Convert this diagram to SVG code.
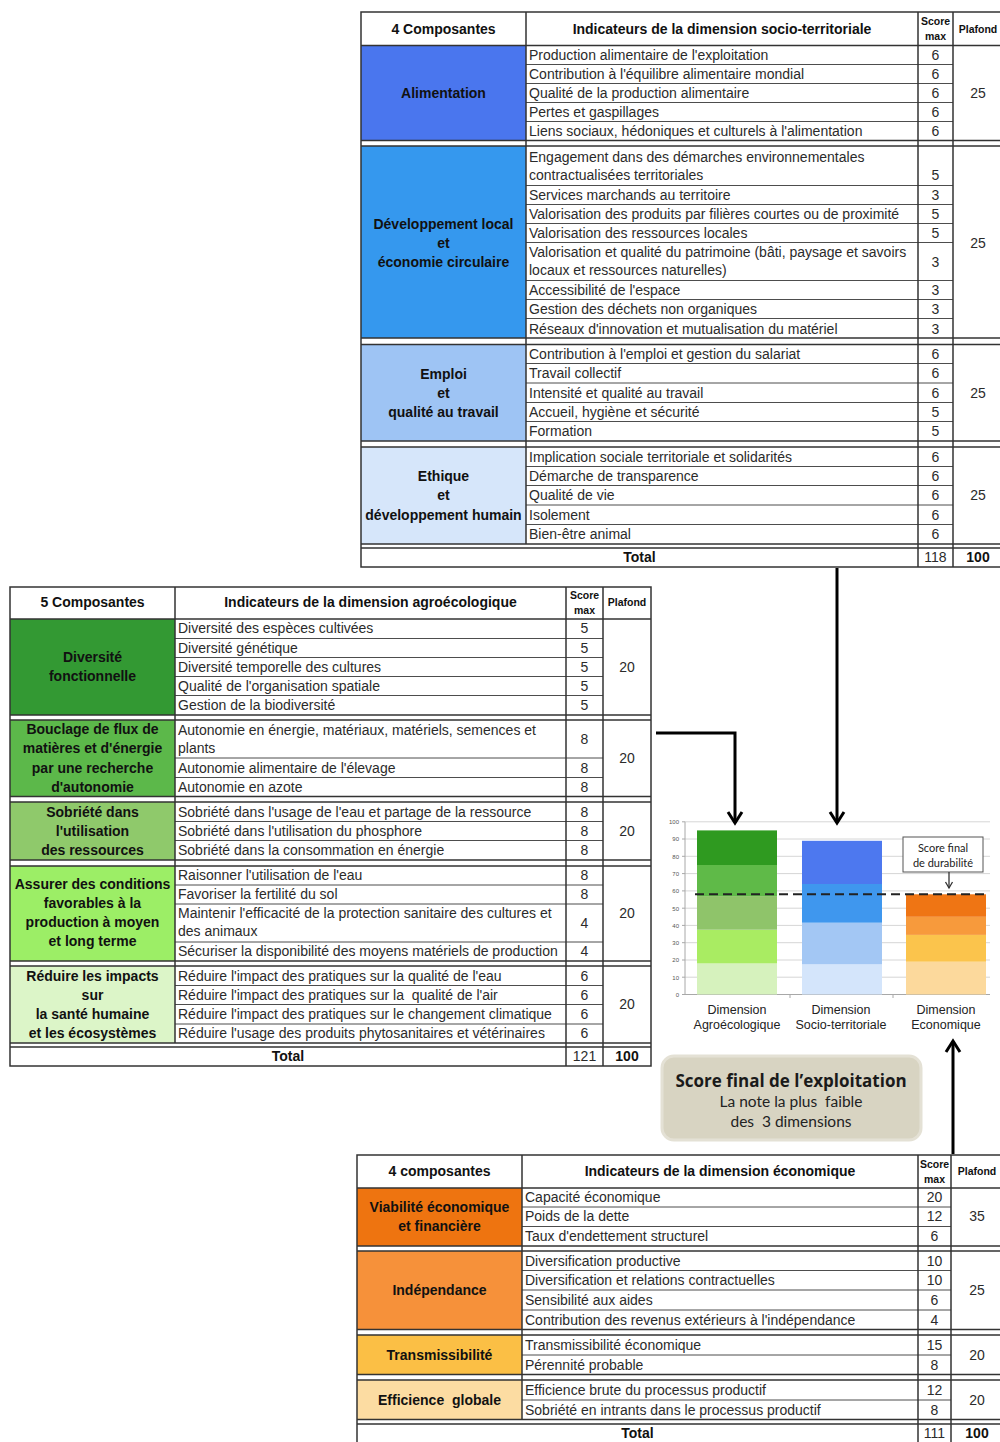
<svg xmlns="http://www.w3.org/2000/svg" width="1000" height="1442" viewBox="0 0 1000 1442">
<defs>
<style>
text{white-space:pre}
.t{font-family:"Liberation Sans",Arial,sans-serif;font-size:14px;fill:#2b2b2b}
.n{text-anchor:middle}
.c{font-family:"Liberation Sans",Arial,sans-serif;font-size:14px;font-weight:bold;fill:#111;text-anchor:middle}
.s{font-family:"Liberation Sans",Arial,sans-serif;font-size:10.5px;font-weight:bold;fill:#111;text-anchor:middle}
.ln{stroke:#4d4d4d;stroke-width:1;fill:none}
.bd{stroke:#333;stroke-width:1.5;fill:none}
.ax{font-family:"Liberation Sans",Arial,sans-serif;font-size:6px;fill:#555;text-anchor:end}
.xl{font-family:"Liberation Sans",Arial,sans-serif;font-size:12.5px;fill:#222;text-anchor:middle}
.gr{stroke:#d6d6d6;stroke-width:1}
.cal{font-family:Lato,"Open Sans",sans-serif;fill:#222;text-anchor:middle}
.ttl{font-family:"Open Sans",Lato,sans-serif;font-weight:700;font-size:17px;fill:#1a1a1a;text-anchor:middle}
.con{stroke:#000;stroke-width:3;fill:none;marker-end:url(#chev)}
</style>
<marker id="chev" markerUnits="userSpaceOnUse" markerWidth="18" markerHeight="18" viewBox="0 0 18 18" refX="15" refY="9" orient="auto">
<path d="M4,2 L15,9 L4,16" fill="none" stroke="#000" stroke-width="3"/>
</marker>
<marker id="chevs" markerUnits="userSpaceOnUse" markerWidth="10" markerHeight="10" viewBox="0 0 10 10" refX="8" refY="5" orient="auto">
<path d="M2,1.5 L8,5 L2,8.5" fill="none" stroke="#333" stroke-width="1.3"/>
</marker>
</defs>
<rect width="1000" height="1442" fill="#fff"/>

<!-- Socio-territorial dimension table -->
<g id="table-socio">
<rect x="361" y="12" width="642" height="555" fill="#fff"/>
<g id="st-alimentation">
<rect x="361" y="45.5" width="165" height="95" fill="#4a76ee"/>
<text class="c" x="443.5" y="98">Alimentation</text>
<path class="ln" d="M526 64.5H953M526 83.5H953M526 102.5H953M526 121.5H953"/>
<text class="t" x="529" y="60">Production alimentaire de l'exploitation</text>
<text class="t" x="529" y="79">Contribution à l'équilibre alimentaire mondial</text>
<text class="t" x="529" y="98">Qualité de la production alimentaire</text>
<text class="t" x="529" y="117">Pertes et gaspillages</text>
<text class="t" x="529" y="136">Liens sociaux, hédoniques et culturels à l'alimentation</text>
<text class="t n" x="935.5" y="60">6</text><text class="t n" x="935.5" y="79">6</text><text class="t n" x="935.5" y="98">6</text><text class="t n" x="935.5" y="117">6</text><text class="t n" x="935.5" y="136">6</text>
<text class="t n" x="978" y="98">25</text>
</g>
<g id="st-developpement">
<rect x="361" y="146" width="165" height="192" fill="#3598ee"/>
<text class="c" x="443.5" y="229">Développement local</text>
<text class="c" x="443.5" y="248">et</text>
<text class="c" x="443.5" y="267">économie circulaire</text>
<path class="ln" d="M526 185.5H953M526 204.5H953M526 223.5H953M526 242.5H953M526 280.5H953M526 299.5H953M526 318.5H953"/>
<text class="t" x="529" y="162">Engagement dans des démarches environnementales</text>
<text class="t" x="529" y="180">contractualisées territoriales</text>
<text class="t" x="529" y="200">Services marchands au territoire</text>
<text class="t" x="529" y="219">Valorisation des produits par filières courtes ou de proximité</text>
<text class="t" x="529" y="238">Valorisation des ressources locales</text>
<text class="t" x="529" y="257">Valorisation et qualité du patrimoine (bâti, paysage et savoirs</text>
<text class="t" x="529" y="275">locaux et ressources naturelles)</text>
<text class="t" x="529" y="295">Accessibilité de l'espace</text>
<text class="t" x="529" y="314">Gestion des déchets non organiques</text>
<text class="t" x="529" y="333.5">Réseaux d'innovation et mutualisation du matériel</text>
<text class="t n" x="935.5" y="180">5</text><text class="t n" x="935.5" y="200">3</text><text class="t n" x="935.5" y="219">5</text><text class="t n" x="935.5" y="238">5</text><text class="t n" x="935.5" y="266.5">3</text><text class="t n" x="935.5" y="295">3</text><text class="t n" x="935.5" y="314">3</text><text class="t n" x="935.5" y="333.5">3</text>
<text class="t n" x="978" y="248">25</text>
</g>
<g id="st-emploi">
<rect x="361" y="344.5" width="165" height="96.5" fill="#9ec4f4"/>
<text class="c" x="443.5" y="379">Emploi</text>
<text class="c" x="443.5" y="398">et</text>
<text class="c" x="443.5" y="417">qualité au travail</text>
<path class="ln" d="M526 363.5H953M526 383H953M526 402.5H953M526 421.5H953"/>
<text class="t" x="529" y="359">Contribution à l'emploi et gestion du salariat</text>
<text class="t" x="529" y="378">Travail collectif</text>
<text class="t" x="529" y="398">Intensité et qualité au travail</text>
<text class="t" x="529" y="417">Accueil, hygiène et sécurité</text>
<text class="t" x="529" y="436">Formation</text>
<text class="t n" x="935.5" y="359">6</text><text class="t n" x="935.5" y="378">6</text><text class="t n" x="935.5" y="398">6</text><text class="t n" x="935.5" y="417">5</text><text class="t n" x="935.5" y="436">5</text>
<text class="t n" x="978" y="398">25</text>
</g>
<g id="st-ethique">
<rect x="361" y="447" width="165" height="97" fill="#d6e6fa"/>
<text class="c" x="443.5" y="481">Ethique</text>
<text class="c" x="443.5" y="500">et</text>
<text class="c" x="443.5" y="520">développement humain</text>
<path class="ln" d="M526 466.5H953M526 485.5H953M526 505H953M526 524.5H953"/>
<text class="t" x="529" y="462">Implication sociale territoriale et solidarités</text>
<text class="t" x="529" y="481">Démarche de transparence</text>
<text class="t" x="529" y="500">Qualité de vie</text>
<text class="t" x="529" y="520">Isolement</text>
<text class="t" x="529" y="539">Bien-être animal</text>
<text class="t n" x="935.5" y="462">6</text><text class="t n" x="935.5" y="481">6</text><text class="t n" x="935.5" y="500">6</text><text class="t n" x="935.5" y="520">6</text><text class="t n" x="935.5" y="539">6</text>
<text class="t n" x="978" y="500">25</text>
</g>
<text class="c" x="443.5" y="34">4 Composantes</text>
<text class="c" x="722" y="34">Indicateurs de la dimension socio-territoriale</text>
<text class="s" x="935.5" y="25">Score</text><text class="s" x="935.5" y="40">max</text>
<text class="s" x="978" y="32.5">Plafond</text>
<text class="c" x="639.5" y="562">Total</text>
<text class="t n" x="935.5" y="562">118</text>
<text class="c" x="978" y="562">100</text>
<path class="bd" d="M361 45.5H1003M361 140.5H1003M361 146H1003M361 338H1003M361 344.5H1003M361 441H1003M361 447H1003M361 544H1003M361 548H1003"/>
<path class="bd" d="M526 12V544M918 12V567M953 12V567"/>
<rect class="bd" x="361" y="12" width="642" height="555"/>
</g>

<!-- Agro-ecological dimension table -->
<g id="table-agro">
<rect x="10" y="587" width="641" height="479" fill="#fff"/>
<g id="ae-diversite">
<rect x="10" y="619" width="165" height="96" fill="#339933"/>
<text class="c" x="92.5" y="662">Diversité</text>
<text class="c" x="92.5" y="681">fonctionnelle</text>
<path class="ln" d="M175 638.5H603M175 657.5H603M175 676.5H603M175 695.5H603"/>
<text class="t" x="178" y="633">Diversité des espèces cultivées</text>
<text class="t" x="178" y="653">Diversité génétique</text>
<text class="t" x="178" y="672">Diversité temporelle des cultures</text>
<text class="t" x="178" y="691">Qualité de l'organisation spatiale</text>
<text class="t" x="178" y="710">Gestion de la biodiversité</text>
<text class="t n" x="584.5" y="633">5</text><text class="t n" x="584.5" y="653">5</text><text class="t n" x="584.5" y="672">5</text><text class="t n" x="584.5" y="691">5</text><text class="t n" x="584.5" y="710">5</text>
<text class="t n" x="627" y="672">20</text>
</g>
<g id="ae-bouclage">
<rect x="10" y="720" width="165" height="76.5" fill="#5cb84a"/>
<text class="c" x="92.5" y="734">Bouclage de flux de</text>
<text class="c" x="92.5" y="753">matières et d'énergie</text>
<text class="c" x="92.5" y="773">par une recherche</text>
<text class="c" x="92.5" y="792">d'autonomie</text>
<path class="ln" d="M175 758H603M175 777.5H603"/>
<text class="t" x="178" y="735">Autonomie en énergie, matériaux, matériels, semences et</text>
<text class="t" x="178" y="753">plants</text>
<text class="t" x="178" y="773">Autonomie alimentaire de l'élevage</text>
<text class="t" x="178" y="792">Autonomie en azote</text>
<text class="t n" x="584.5" y="744">8</text><text class="t n" x="584.5" y="773">8</text><text class="t n" x="584.5" y="792">8</text>
<text class="t n" x="627" y="763">20</text>
</g>
<g id="ae-sobriete">
<rect x="10" y="802" width="165" height="58" fill="#8fc96b"/>
<text class="c" x="92.5" y="817">Sobriété dans</text>
<text class="c" x="92.5" y="836">l'utilisation</text>
<text class="c" x="92.5" y="855">des ressources</text>
<path class="ln" d="M175 821.5H603M175 840.5H603"/>
<text class="t" x="178" y="817">Sobriété dans l'usage de l'eau et partage de la ressource</text>
<text class="t" x="178" y="836">Sobriété dans l'utilisation du phosphore</text>
<text class="t" x="178" y="855">Sobriété dans la consommation en énergie</text>
<text class="t n" x="584.5" y="817">8</text><text class="t n" x="584.5" y="836">8</text><text class="t n" x="584.5" y="855">8</text>
<text class="t n" x="627" y="836">20</text>
</g>
<g id="ae-conditions">
<rect x="10" y="866" width="165" height="95" fill="#9cee66"/>
<text class="c" x="92.5" y="889">Assurer des conditions</text>
<text class="c" x="92.5" y="908">favorables à la</text>
<text class="c" x="92.5" y="927">production à moyen</text>
<text class="c" x="92.5" y="946">et long terme</text>
<path class="ln" d="M175 885H603M175 904H603M175 942H603"/>
<text class="t" x="178" y="880">Raisonner l'utilisation de l'eau</text>
<text class="t" x="178" y="899">Favoriser la fertilité du sol</text>
<text class="t" x="178" y="918">Maintenir l'efficacité de la protection sanitaire des cultures et</text>
<text class="t" x="178" y="936">des animaux</text>
<text class="t" x="178" y="956">Sécuriser la disponibilité des moyens matériels de production</text>
<text class="t n" x="584.5" y="880">8</text><text class="t n" x="584.5" y="899">8</text><text class="t n" x="584.5" y="928">4</text><text class="t n" x="584.5" y="956">4</text>
<text class="t n" x="627" y="918">20</text>
</g>
<g id="ae-impacts">
<rect x="10" y="966" width="165" height="77" fill="#dcf5c8"/>
<text class="c" x="92.5" y="981">Réduire les impacts</text>
<text class="c" x="92.5" y="1000">sur</text>
<text class="c" x="92.5" y="1019">la santé humaine</text>
<text class="c" x="92.5" y="1038">et les écosystèmes</text>
<path class="ln" d="M175 985.5H603M175 1004.5H603M175 1024H603"/>
<text class="t" x="178" y="981">Réduire l'impact des pratiques sur la qualité de l'eau</text>
<text class="t" x="178" y="1000">Réduire l'impact des pratiques sur la  qualité de l'air</text>
<text class="t" x="178" y="1019">Réduire l'impact des pratiques sur le changement climatique</text>
<text class="t" x="178" y="1038">Réduire l'usage des produits phytosanitaires et vétérinaires</text>
<text class="t n" x="584.5" y="981">6</text><text class="t n" x="584.5" y="1000">6</text><text class="t n" x="584.5" y="1019">6</text><text class="t n" x="584.5" y="1038">6</text>
<text class="t n" x="627" y="1009">20</text>
</g>
<text class="c" x="92.5" y="607">5 Composantes</text>
<text class="c" x="370.5" y="607">Indicateurs de la dimension agroécologique</text>
<text class="s" x="584.5" y="599">Score</text><text class="s" x="584.5" y="614">max</text>
<text class="s" x="627" y="606">Plafond</text>
<text class="c" x="288" y="1061">Total</text>
<text class="t n" x="584.5" y="1061">121</text>
<text class="c" x="627" y="1061">100</text>
<path class="bd" d="M10 619H651M10 715H651M10 720H651M10 796.5H651M10 802H651M10 860H651M10 866H651M10 961H651M10 966H651M10 1043H651M10 1047H651"/>
<path class="bd" d="M175 587V1043M566 587V1066M603 587V1066"/>
<rect class="bd" x="10" y="587" width="641" height="479"/>
</g>

<!-- Economic dimension table -->
<g id="table-eco">
<rect x="357" y="1155" width="646" height="290" fill="#fff"/>
<g id="ec-viabilite">
<rect x="357" y="1188" width="165" height="58" fill="#ee7410"/>
<text class="c" x="439.5" y="1212">Viabilité économique</text>
<text class="c" x="439.5" y="1231">et financière</text>
<path class="ln" d="M522 1207H951M522 1226.5H951"/>
<text class="t" x="525" y="1202">Capacité économique</text>
<text class="t" x="525" y="1221">Poids de la dette</text>
<text class="t" x="525" y="1241">Taux d'endettement structurel</text>
<text class="t n" x="934.5" y="1202">20</text><text class="t n" x="934.5" y="1221">12</text><text class="t n" x="934.5" y="1241">6</text>
<text class="t n" x="977" y="1221">35</text>
</g>
<g id="ec-independance">
<rect x="357" y="1251" width="165" height="78.5" fill="#f6913a"/>
<text class="c" x="439.5" y="1295">Indépendance</text>
<path class="ln" d="M522 1270.5H951M522 1290H951M522 1310H951"/>
<text class="t" x="525" y="1266">Diversification productive</text>
<text class="t" x="525" y="1285">Diversification et relations contractuelles</text>
<text class="t" x="525" y="1305">Sensibilité aux aides</text>
<text class="t" x="525" y="1325">Contribution des revenus extérieurs à l'indépendance</text>
<text class="t n" x="934.5" y="1266">10</text><text class="t n" x="934.5" y="1285">10</text><text class="t n" x="934.5" y="1305">6</text><text class="t n" x="934.5" y="1325">4</text>
<text class="t n" x="977" y="1295">25</text>
</g>
<g id="ec-transmissibilite">
<rect x="357" y="1335" width="165" height="39.5" fill="#fbbf45"/>
<text class="c" x="439.5" y="1360">Transmissibilité</text>
<path class="ln" d="M522 1355H951"/>
<text class="t" x="525" y="1350">Transmissibilité économique</text>
<text class="t" x="525" y="1370">Pérennité probable</text>
<text class="t n" x="934.5" y="1350">15</text><text class="t n" x="934.5" y="1370">8</text>
<text class="t n" x="977" y="1360">20</text>
</g>
<g id="ec-efficience">
<rect x="357" y="1380" width="165" height="39.5" fill="#fcdca2"/>
<text class="c" x="439.5" y="1405">Efficience  globale</text>
<path class="ln" d="M522 1400H951"/>
<text class="t" x="525" y="1395">Efficience brute du processus productif</text>
<text class="t" x="525" y="1415">Sobriété en intrants dans le processus productif</text>
<text class="t n" x="934.5" y="1395">12</text><text class="t n" x="934.5" y="1415">8</text>
<text class="t n" x="977" y="1405">20</text>
</g>
<text class="c" x="439.5" y="1176">4 composantes</text>
<text class="c" x="720" y="1176">Indicateurs de la dimension économique</text>
<text class="s" x="934.5" y="1168">Score</text><text class="s" x="934.5" y="1183">max</text>
<text class="s" x="977" y="1175">Plafond</text>
<text class="c" x="637.5" y="1438">Total</text>
<text class="t n" x="934.5" y="1438">111</text>
<text class="c" x="977" y="1438">100</text>
<path class="bd" d="M357 1188H1003M357 1246H1003M357 1251H1003M357 1329.5H1003M357 1335H1003M357 1374.5H1003M357 1380H1003M357 1419.5H1003M357 1424H1003"/>
<path class="bd" d="M522 1155V1419.5M918 1155V1445M951 1155V1445"/>
<rect class="bd" x="357" y="1155" width="646" height="290"/>
</g>

<!-- Stacked score chart -->
<g id="chart">
<g>
<path class="gr" d="M685 821.8H990M685 839H990M685 856.3H990M685 873.6H990M685 890.9H990M685 908.2H990M685 925.4H990M685 942.7H990M685 960H990M685 977.2H990"/>
<path d="M685 821.8V994.5H990" stroke="#a8a8a8" stroke-width="1" fill="none"/>
<path d="M790 994.5V998M893 994.5V998M682 994.5H685M682 977.2H685M682 960H685M682 942.7H685M682 925.4H685M682 908.2H685M682 890.9H685M682 873.6H685M682 856.3H685M682 839H685M682 821.8H685" stroke="#a8a8a8" stroke-width="1"/>
<text class="ax" x="679" y="824">100</text><text class="ax" x="679" y="841">90</text><text class="ax" x="679" y="858.5">80</text><text class="ax" x="679" y="876">70</text><text class="ax" x="679" y="893">60</text><text class="ax" x="679" y="910.5">50</text><text class="ax" x="679" y="927.5">40</text><text class="ax" x="679" y="945">30</text><text class="ax" x="679" y="962">20</text><text class="ax" x="679" y="979.5">10</text><text class="ax" x="679" y="996.5">0</text>
</g>
<g id="bar-agro">
<rect x="697" y="963.4" width="80" height="31.1" fill="#d6f2bd"/>
<rect x="697" y="929.7" width="80" height="33.7" fill="#a9ec62"/>
<rect x="697" y="896.1" width="80" height="33.6" fill="#8fc46a"/>
<rect x="697" y="865" width="80" height="31.1" fill="#5fba48"/>
<rect x="697" y="830.4" width="80" height="34.6" fill="#2f9a20"/>
</g>
<g id="bar-socio">
<rect x="802" y="964.3" width="80" height="30.2" fill="#d4e5fb"/>
<rect x="802" y="922.7" width="80" height="41.6" fill="#a3c7f4"/>
<rect x="802" y="884" width="80" height="38.7" fill="#3f97ee"/>
<rect x="802" y="840.8" width="80" height="43.2" fill="#4d78ef"/>
</g>
<g id="bar-eco">
<rect x="906" y="961.7" width="80" height="32.8" fill="#fcd99c"/>
<rect x="906" y="934.9" width="80" height="26.8" fill="#fbc44c"/>
<rect x="906" y="916.8" width="80" height="18.1" fill="#f79a3c"/>
<rect x="906" y="894.3" width="80" height="22.5" fill="#ef7514"/>
</g>
<path d="M695 894.3H986" stroke="#222" stroke-width="2" stroke-dasharray="9 5"/>
<g id="score-durabilite">
<rect x="903" y="837" width="80" height="35" fill="#fff" stroke="#555" stroke-width="1"/>
<text class="cal" x="943" y="852" font-size="11">Score final</text>
<text class="cal" x="943" y="867" font-size="11">de durabilité</text>
<path d="M949 872V888" stroke="#333" stroke-width="1.3" marker-end="url(#chevs)"/>
</g>
<text class="xl" x="737" y="1014">Dimension</text>
<text class="xl" x="737" y="1029">Agroécologique</text>
<text class="xl" x="841" y="1014">Dimension</text>
<text class="xl" x="841" y="1029">Socio-territoriale</text>
<text class="xl" x="946" y="1014">Dimension</text>
<text class="xl" x="946" y="1029">Economique</text>
</g>

<!-- Final score note -->
<g id="score-final">
<rect x="662" y="1056" width="259" height="84" rx="12" fill="#d8d4c2" stroke="#e4e1d5" stroke-width="3"/>
<text class="ttl" x="791" y="1087">Score final de l’exploitation</text>
<text class="cal" x="791" y="1107" font-size="15.5">La note la plus  faible</text>
<text class="cal" x="791" y="1127" font-size="15.5">des  3 dimensions</text>
</g>

<!-- Connectors -->
<g id="connectors">
<path class="con" d="M656 733H735V823"/>
<path class="con" d="M837 568V823"/>
<path class="con" d="M953 1154V1041"/>
</g>
</svg>
